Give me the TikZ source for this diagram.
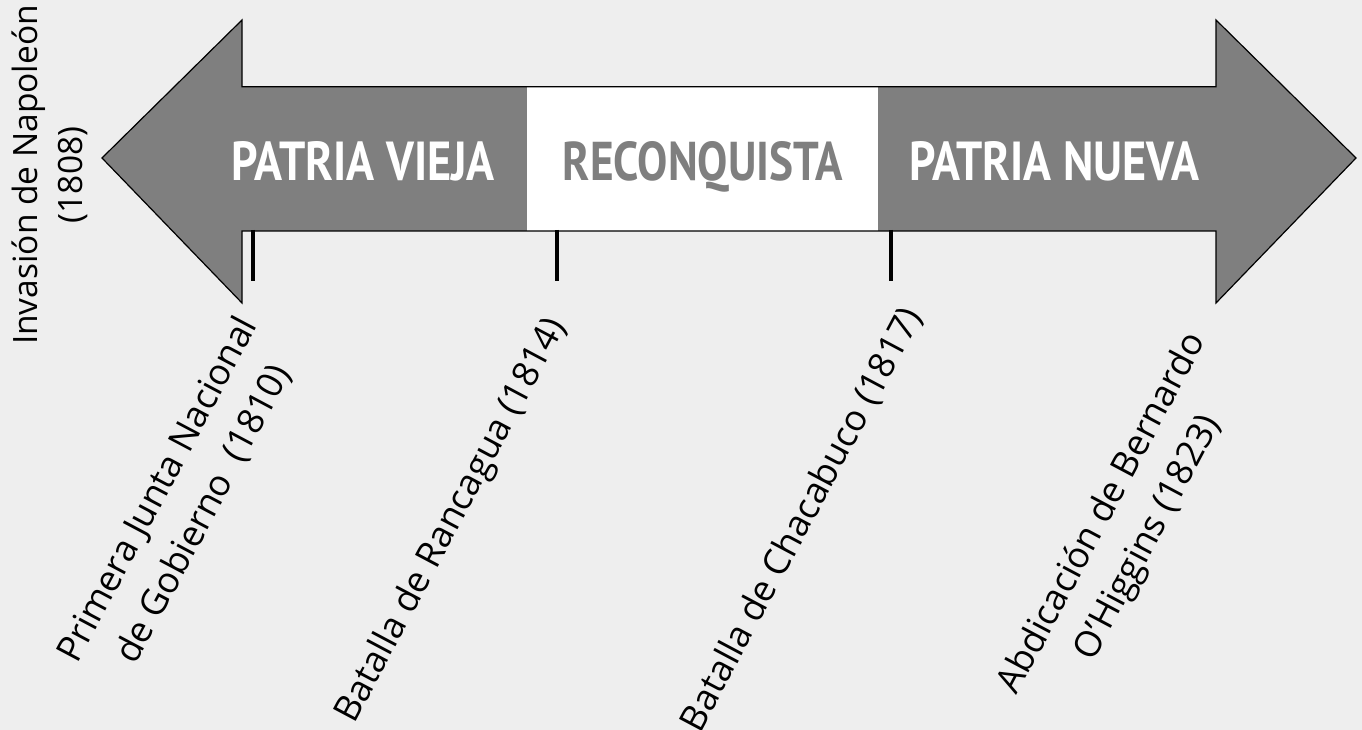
\documentclass[tikz,border=0pt]{standalone}
\usepackage{graphicx}
\usepackage{fontspec}
\setmainfont{Open Sans}
\newfontfamily\titlefont{PT Sans}
\definecolor{bg}{HTML}{EEEEEE}
\definecolor{arrowgray}{HTML}{7F7F7F}
\tikzset{
  period/.style={inner sep=0pt, anchor=base},
  eventlbl/.style={inner sep=0pt, align=center, rotate=62, text=black,
    font=\fontsize{36}{52}\selectfont},
  tickmark/.style={line width=4.5pt, black},
}
\newcommand{\ptitle}[3]{\resizebox{#1pt}{39pt}{\titlefont\bfseries\color{#2}#3}}
\begin{document}
\begin{tikzpicture}[x=1pt,y=1pt]
\useasboundingbox (0,0) rectangle (1362,730);
\fill[bg] (0,0) rectangle (1362,730);
% arrow
\fill[arrowgray] (102,572) -- (242,710) -- (242,643.3) -- (1216,643.3) -- (1216,710) -- (1356,572)
  -- (1216,427) -- (1216,499) -- (242,499) -- (242,427) -- cycle;
\fill[white] (526.7,499) rectangle (878.3,643.3);
\draw[black, line width=1.2pt, line join=miter] (102,572) -- (242,710) -- (242,643.3) -- (1216,643.3) -- (1216,710) -- (1356,572)
  -- (1216,427) -- (1216,499) -- (242,499) -- (242,427) -- cycle;
% period titles
\node[period] (pv) at (363.4,549.5) {\ptitle{263}{white}{PATRIA VIEJA}};
\node[period] (rq) at (703,549.5) {\ptitle{280}{arrowgray}{RECONQUISTA}};
\node[period] (pn) at (1054.3,549.5) {\ptitle{290}{white}{PATRIA NUEVA}};
% ticks
\coordinate (t1a) at (253,500); \coordinate (t1b) at (253,449);
\coordinate (t2a) at (557,500); \coordinate (t2b) at (557,449);
\coordinate (t3a) at (891,500); \coordinate (t3b) at (891,449);
\draw[tickmark] (t1a) -- (t1b);
\draw[tickmark] (t2a) -- (t2b);
\draw[tickmark] (t3a) -- (t3b);
% event labels
\node[inner sep=0pt, align=center, rotate=90, font=\fontsize{33.5}{45}\selectfont] (nap) at (50,555)
  {Invasión de Napoleón\\(1808)};
\node[eventlbl] (junta) at (181,228) {Primera Junta Nacional\\de Gobierno~~(1810)};
\node[eventlbl] (ranc) at (452,209) {Batalla de Rancagua (1814)};
\node[eventlbl] (chac) at (802,210) {Batalla de Chacabuco (1817)};
\node[eventlbl] (abd) at (1126,204) {Abdicación de Bernardo\\O’Higgins (1823)};
\end{tikzpicture}
\end{document}
